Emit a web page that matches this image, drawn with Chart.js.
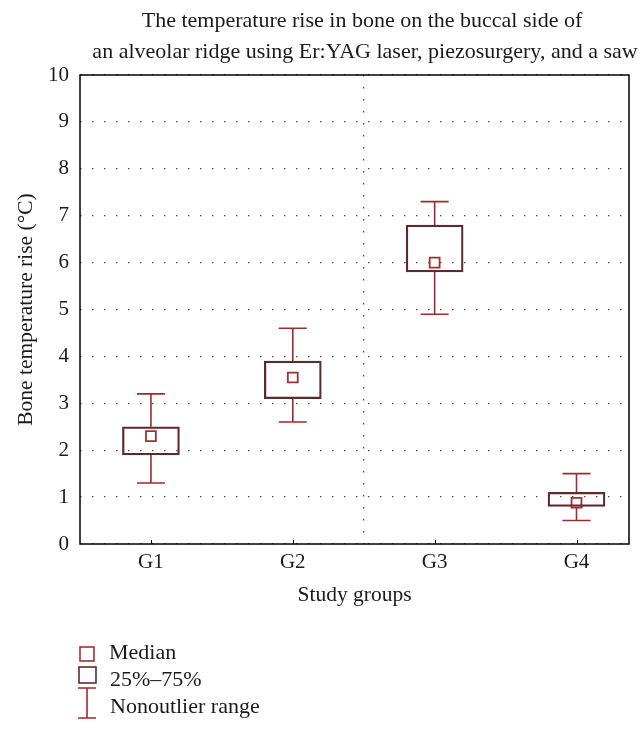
<!DOCTYPE html>
<html>
<head>
<meta charset="utf-8">
<title>Bone temperature rise</title>
<script src="https://cdn.jsdelivr.net/npm/chart.js@4/dist/chart.umd.min.js"></script>
<style>
  html, body { margin: 0; padding: 0; background: #fff; }
  #wrap { width: 644px; height: 733px; position: relative; }
</style>
</head>
<body>
<div id="wrap"><canvas id="boxChart"></canvas></div>
<script>
// données (°C)
const groups = ['G1', 'G2', 'G3', 'G4'];
const groupPos = [1, 2, 3, 4];
const lowValues = [1.3, 2.6, 4.9, 0.5];
const q1Values = [1.9, 3.1, 5.8, 0.8];
const medianValues = [2.3, 3.55, 6.0, 0.88];
const q3Values = [2.5, 3.9, 6.8, 1.1];
const highValues = [3.2, 4.6, 7.3, 1.5];
const yTickValues = [0, 1, 2, 3, 4, 5, 6, 7, 8, 9, 10];
const xGridValues = [2.5];
const titleLines = [
  'The temperature rise in bone on the buccal side of',
  'an alveolar ridge using Er:YAG laser, piezosurgery, and a saw'
];
const legendLabels = ['Median', '25%\u201375%', 'Nonoutlier range'];

const FONT = '"Liberation Serif", "DejaVu Serif", serif';
const BOX_COLOR = '#5e2b2d';
const WHISKER_COLOR = '#a02a2c';
const MEDIAN_COLOR = '#a3302f';
const TEXT_COLOR = '#1a1a1a';

const decorPlugin = {
  id: 'decor',
  beforeDatasetsDraw(chart) {
    const { ctx, scales: { x, y } } = chart;
    ctx.save();
    ctx.strokeStyle = WHISKER_COLOR;
    ctx.lineWidth = 1.6;
    groupPos.forEach((g, i) => {
      const px = x.getPixelForValue(g);
      const yHigh = y.getPixelForValue(highValues[i]);
      const yQ3 = y.getPixelForValue(q3Values[i]);
      const yQ1 = y.getPixelForValue(q1Values[i]);
      const yLow = y.getPixelForValue(lowValues[i]);
      ctx.beginPath();
      ctx.moveTo(px, yHigh); ctx.lineTo(px, yQ3);
      ctx.moveTo(px, yQ1); ctx.lineTo(px, yLow);
      ctx.moveTo(px - 14, yHigh); ctx.lineTo(px + 14, yHigh);
      ctx.moveTo(px - 14, yLow); ctx.lineTo(px + 14, yLow);
      ctx.stroke();
    });
    ctx.restore();
  },
  afterDraw(chart) {
    const { ctx, chartArea: a, scales: { x } } = chart;
    ctx.save();
    // cadre
    ctx.strokeStyle = '#000';
    ctx.lineWidth = 1.5;
    ctx.strokeRect(a.left, a.top, a.right - a.left, a.bottom - a.top);
    // graduations vers l'intérieur
    ctx.lineWidth = 1;
    ctx.beginPath();
    groupPos.forEach(g => {
      const px = Math.round(x.getPixelForValue(g)) + 0.5;
      ctx.moveTo(px, a.bottom); ctx.lineTo(px, a.bottom - 4);
    });
    ctx.stroke();

    // titre
    ctx.fillStyle = TEXT_COLOR;
    ctx.font = '22px ' + FONT;
    ctx.textAlign = 'center';
    ctx.textBaseline = 'alphabetic';
    ctx.fillText(titleLines[0], 362, 27);
    ctx.fillText(titleLines[1], 365, 58);

    // légende
    ctx.textAlign = 'left';
    ctx.font = '22px ' + FONT;
    ctx.fillText(legendLabels[0], 109, 659);
    ctx.fillText(legendLabels[1], 110, 686);
    ctx.fillText(legendLabels[2], 110, 713);
    ctx.lineWidth = 1.6;
    ctx.strokeStyle = MEDIAN_COLOR;
    ctx.strokeRect(80, 647, 14, 14);
    ctx.strokeStyle = BOX_COLOR;
    ctx.strokeRect(79, 667, 17, 16);
    ctx.strokeStyle = WHISKER_COLOR;
    ctx.beginPath();
    ctx.moveTo(87, 688); ctx.lineTo(87, 718);
    ctx.moveTo(78, 688); ctx.lineTo(96, 688);
    ctx.moveTo(78, 718); ctx.lineTo(96, 718);
    ctx.stroke();
    ctx.restore();
  }
};

const ctx = document.getElementById('boxChart');
new Chart(ctx, {
  type: 'bar',
  data: {
    datasets: [
      {
        label: '25%\u201375%',
        data: groupPos.map((g, i) => ({ x: g, y: [q1Values[i], q3Values[i]] })),
        backgroundColor: 'rgba(0,0,0,0)',
        borderColor: BOX_COLOR,
        borderWidth: 1.6,
        borderSkipped: false,
        barThickness: 57
      },
      {
        type: 'scatter',
        label: 'Median',
        data: groupPos.map((g, i) => ({ x: g, y: medianValues[i] })),
        pointStyle: 'rect',
        radius: 7,
        borderWidth: 1.8,
        borderColor: MEDIAN_COLOR,
        backgroundColor: '#fff'
      }
    ]
  },
  options: {
    responsive: true,
    maintainAspectRatio: false,
    animation: false,
    devicePixelRatio: 1,
    layout: { padding: { top: 75, right: 15, bottom: 125, left: 0 } },
    plugins: {
      legend: { display: false },
      tooltip: { enabled: false },
      title: { display: false }
    },
    scales: {
      x: {
        type: 'linear',
        min: 0.5,
        max: 4.37,
        offset: false,
        afterFit: s => { s.height = 64; },
        afterBuildTicks: s => { s.ticks = groupPos.concat(xGridValues).sort().map(v => ({ value: v })); },
        ticks: {
          autoSkip: false,
          padding: 6,
          color: TEXT_COLOR,
          font: { family: FONT, size: 21 },
          callback: v => (groupPos.includes(v) ? groups[v - 1] : '')
        },
        grid: {
          drawTicks: false,
          offset: false,
          lineWidth: 1.3,
          color: c => (c.tick && xGridValues.includes(c.tick.value) ? '#555' : 'rgba(0,0,0,0)')
        },
        border: { display: false, dash: [1.5, 10.5] },
        title: {
          display: true,
          text: 'Study groups',
          color: TEXT_COLOR,
          font: { family: FONT, size: 21.5 },
          padding: 0
        }
      },
      y: {
        min: 0,
        max: 10,
        afterFit: s => { s.width = 80; },
        afterBuildTicks: s => { s.ticks = yTickValues.map(v => ({ value: v })); },
        ticks: {
          padding: 11,
          color: TEXT_COLOR,
          font: { family: FONT, size: 21 }
        },
        grid: {
          drawTicks: false,
          lineWidth: 1.3,
          color: '#555'
        },
        border: { display: false, dash: [1.5, 10.5] },
        title: {
          display: true,
          text: 'Bone temperature rise (\u00b0C)',
          color: TEXT_COLOR,
          font: { family: FONT, size: 21.5 },
          padding: { top: 13 }
        }
      }
    }
  },
  plugins: [decorPlugin]
});
</script>
</body>
</html>
